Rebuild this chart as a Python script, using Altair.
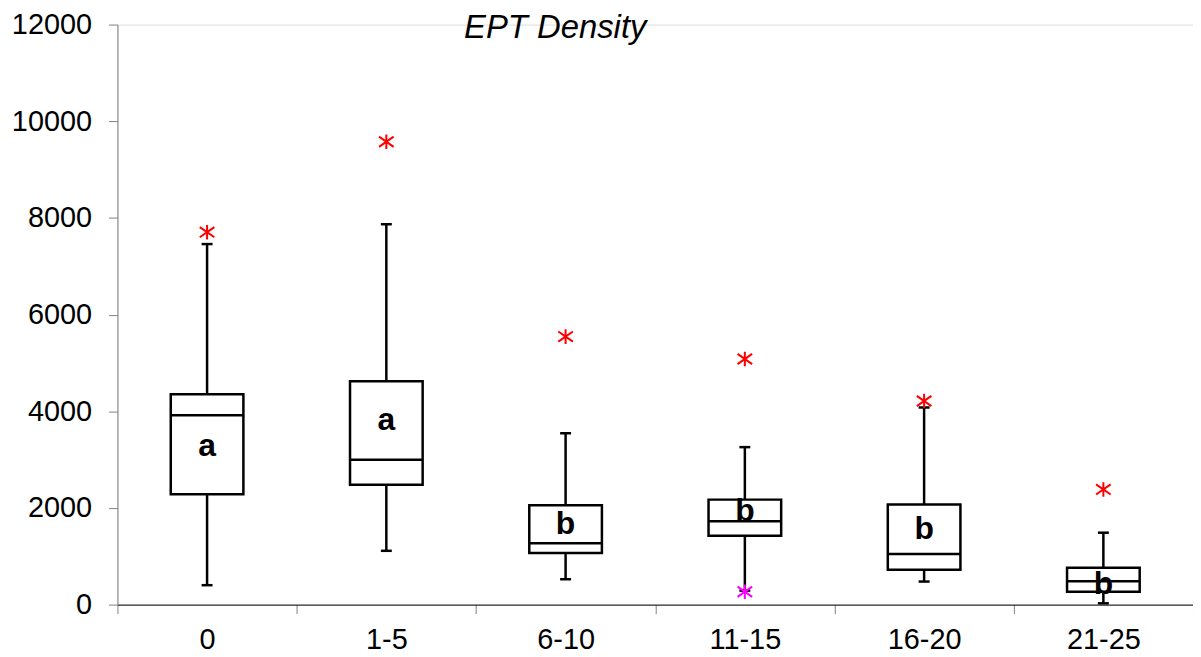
import altair as alt
import pandas as pd

cats = ["0", "1-5", "6-10", "11-15", "16-20", "21-25"]
whisk_lo = [402, 1113, 525, 290, 477, 27]
q1 = [2281, 2479, 1066, 1426, 723, 266]
median = [3920, 2998, 1270, 1727, 1045, 484]
q3 = [4350, 4623, 2055, 2172, 2070, 764]
whisk_hi = [7459, 7869, 3545, 3258, 4078, 1488]
red_pts = [7705, 9576, 5545, 5082, 4213, 2383]
low_cat = ["11-15"]
low_pts = [266]
letters = ["a", "a", "b", "b", "b", "b"]
letter_y = [3066, 3613, 1461, 1734, 1359, 211]

FONT = "Liberation Sans"

df = pd.DataFrame({
    "cat": cats, "lo": whisk_lo, "q1": q1, "med": median, "q3": q3,
    "hi": whisk_hi, "red": red_pts, "letter": letters, "ly": letter_y,
})
df_low = pd.DataFrame({"cat": low_cat, "v": low_pts})

xenc = alt.X("cat:N", sort=cats, title=None,
             scale=alt.Scale(paddingInner=0, paddingOuter=0),
             axis=alt.Axis(labelAngle=0, labelFontSize=29, labelFont=FONT,
                           labelColor="black", tickBand="extent", tickSize=9,
                           tickColor="#808080", domainColor="black",
                           labelPadding=12, grid=False))
yscale = alt.Scale(domain=[0, 12000], nice=False)
yaxis = alt.Axis(values=list(range(0, 12001, 2000)), format="d",
                 labelFontSize=29, labelFont=FONT, labelColor="black",
                 tickSize=9, tickColor="#808080", domainColor="#808080",
                 labelPadding=17, grid=False, title=None)

base = alt.Chart(df)

w_low = base.mark_rule(color="black", strokeWidth=2.5).encode(
    x=xenc, y=alt.Y("lo:Q", scale=yscale, axis=yaxis), y2="q1:Q")
w_high = base.mark_rule(color="black", strokeWidth=2.5).encode(
    x=xenc, y=alt.Y("q3:Q", scale=yscale, axis=yaxis), y2="hi:Q")
cap_low = base.mark_tick(color="black", size=11, thickness=2.5, opacity=1).encode(
    x=xenc, y=alt.Y("lo:Q", scale=yscale, axis=yaxis))
cap_high = base.mark_tick(color="black", size=11, thickness=2.5, opacity=1).encode(
    x=xenc, y=alt.Y("hi:Q", scale=yscale, axis=yaxis))
boxes = base.mark_bar(width=73, fill="white", stroke="black", strokeWidth=2.5,
                      opacity=1).encode(
    x=xenc, y=alt.Y("q1:Q", scale=yscale, axis=yaxis), y2="q3:Q")
meds = base.mark_tick(color="black", size=73, thickness=2.5, opacity=1).encode(
    x=xenc, y=alt.Y("med:Q", scale=yscale, axis=yaxis))
labels = base.mark_text(font=FONT, fontSize=32, fontWeight="bold",
                        color="black", align="center",
                        baseline="alphabetic").encode(
    x=xenc, y=alt.Y("ly:Q", scale=yscale, axis=yaxis), text="letter:N")

star = "M-1,-0.7L1,0.7M-1,0.7L1,-0.7M0,-1L0,1"
reds = base.mark_point(shape=star, size=215, filled=False, color="#FF0000",
                       strokeWidth=2, opacity=1).encode(
    x=xenc, y=alt.Y("red:Q", scale=yscale, axis=yaxis))
lows = alt.Chart(df_low).mark_point(shape=star, size=215, filled=False,
                                    color="#FF00FF", strokeWidth=2,
                                    opacity=1).encode(
    x=xenc, y=alt.Y("v:Q", scale=yscale, axis=yaxis))

title = alt.Chart(pd.DataFrame({"t": ["EPT Density"]})).mark_text(
    font=FONT, fontSize=33, fontStyle="italic", color="black",
    align="center", baseline="alphabetic").encode(
    text="t:N", x=alt.value(440), y=alt.value(14))

chart = alt.layer(w_low, w_high, cap_low, cap_high, boxes, meds, labels,
                  reds, lows, title).properties(
    width=1081, height=583,
    autosize=alt.AutoSizeParams(type="none"),
    padding={"left": 110, "top": 15, "right": 0, "bottom": 50},
).configure_view(stroke=None).configure(background="white")

chart.save("out.html", embed_options={"renderer": "svg", "actions": False})
